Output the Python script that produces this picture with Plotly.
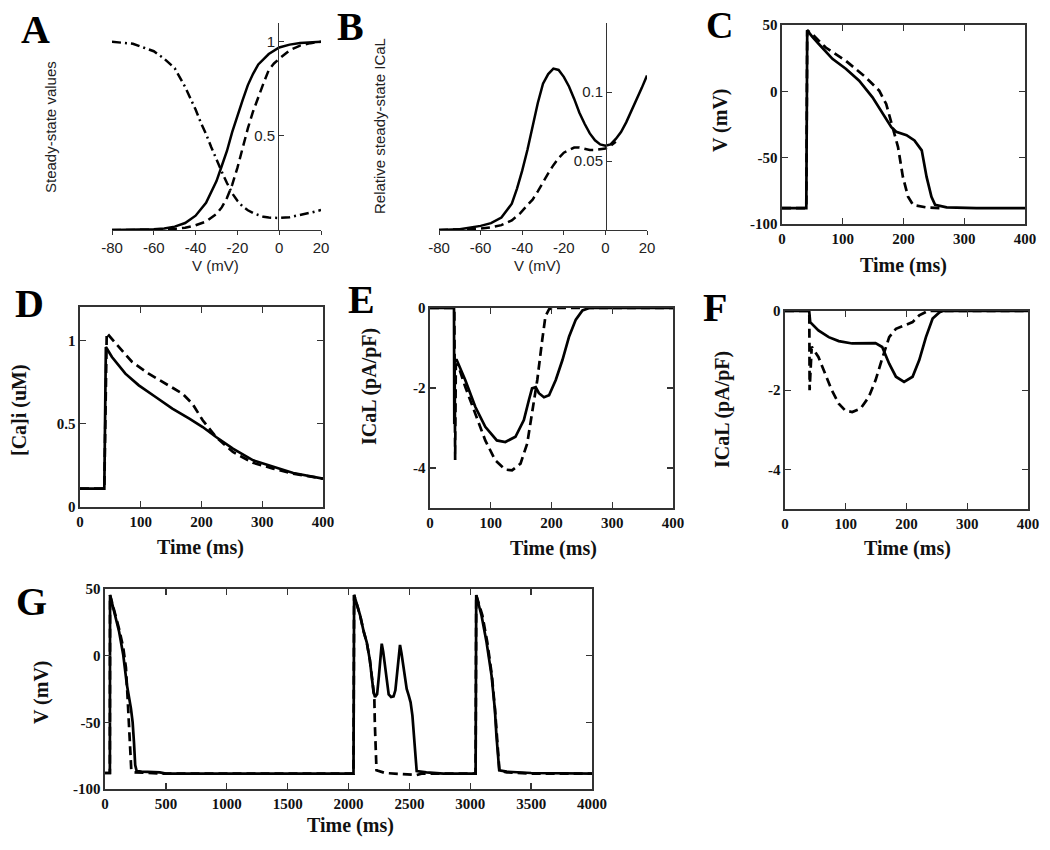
import plotly.graph_objects as go

# ---------------- Panel A: steady-state values ----------------
A_v_solid = [-80, -70, -60, -55, -50, -45, -40, -35, -30, -27.5, -25, -22.5, -20, -17.5, -15, -12.5, -10, -7.5, -5, 0, 5, 10, 15, 20]
A_y_solid = [0, 0.0, 0.004, 0.008, 0.018, 0.037, 0.076, 0.145, 0.26, 0.34, 0.42, 0.52, 0.61, 0.69, 0.77, 0.83, 0.88, 0.91, 0.935, 0.97, 0.985, 0.994, 0.997, 1.0]
A_v_dash = [-80, -60, -50, -45, -40, -35, -30, -27.5, -25, -22.5, -20, -17.5, -15, -12.5, -10, -7.5, -5, -2.5, 0, 5, 10, 15, 20]
A_y_dash = [0, 0.001, 0.006, 0.012, 0.025, 0.045, 0.085, 0.12, 0.17, 0.24, 0.33, 0.44, 0.54, 0.63, 0.71, 0.78, 0.85, 0.885, 0.91, 0.955, 0.98, 0.993, 1.0]
A_v_dd = [-80, -75, -70, -65, -60, -55, -50, -45, -42.5, -40, -37.5, -35, -32.5, -30, -27.5, -25, -22.5, -20, -17.5, -15, -12.5, -10, -7.5, -5, 0, 5, 10, 15, 20]
A_y_dd = [1.0, 0.995, 0.99, 0.97, 0.95, 0.91, 0.86, 0.76, 0.70, 0.64, 0.57, 0.51, 0.44, 0.37, 0.31, 0.25, 0.195, 0.155, 0.125, 0.105, 0.09, 0.08, 0.07, 0.066, 0.064, 0.068, 0.078, 0.092, 0.106]

# ---------------- Panel B: relative steady-state ICaL ----------------
B_v_solid = [-80, -70, -60, -55, -50, -45, -42.5, -40, -37.5, -35, -32.5, -30, -27.5, -25, -22.5, -20, -17.5, -15, -12.5, -10, -7.5, -5, -2.5, 0, 2.5, 5, 7.5, 10, 12.5, 15, 17.5, 20]
B_y_solid = [0, 0.0005, 0.003, 0.005, 0.009, 0.019, 0.03, 0.043, 0.058, 0.075, 0.092, 0.106, 0.113, 0.117, 0.116, 0.111, 0.104, 0.095, 0.085, 0.077, 0.07, 0.065, 0.062, 0.061, 0.062, 0.066, 0.071, 0.078, 0.086, 0.094, 0.103, 0.112]
B_v_dash = [-80, -60, -55, -50, -45, -41, -37.5, -35, -32.5, -30, -27.5, -25, -22.5, -20, -17.5, -15, -12.5, -10, -7.5, -5, -2.5, 0, 2.5, 5]
B_y_dash = [0, 0.001, 0.002, 0.0035, 0.007, 0.012, 0.018, 0.022, 0.028, 0.035, 0.041, 0.047, 0.052, 0.056, 0.058, 0.0597, 0.0598, 0.059, 0.058, 0.058, 0.0585, 0.059, 0.061, 0.064]

# ---------------- Panel C: action potential ----------------
C_t_solid = [0, 40, 41.5, 50, 61, 83, 105, 127, 149, 166, 180, 188, 205, 218, 230, 238, 246, 252, 271, 320, 400]
C_v_solid = [-88, -88, 46, 41, 35.5, 24.5, 17, 8, -4.5, -17, -27, -30.5, -33, -37, -44.5, -64.5, -79.5, -85.5, -87.5, -88, -88]
C_t_dash = [0, 40, 41.5, 50, 72, 105, 138, 160, 171.5, 182.6, 191, 199, 207.5, 216, 238, 260]
C_v_dash = [-88, -88, 46, 43, 33, 23, 10.5, 0.5, -9.5, -27, -42, -64.5, -79.5, -85.75, -87.5, -88]

# ---------------- Panel D: [Ca]i ----------------
D_t_solid = [0, 40, 42.6, 52.6, 74.7, 96.8, 124.5, 152, 180, 202, 224, 251.7, 285, 318, 351, 400]
D_c_solid = [0.11, 0.11, 0.96, 0.9, 0.8, 0.73, 0.66, 0.59, 0.53, 0.48, 0.42, 0.35, 0.28, 0.24, 0.204, 0.17]
D_t_dash = [0, 40, 44, 63.6, 85.8, 113, 141, 168.7, 185, 202, 224, 251.7, 285, 318, 351, 400]
D_c_dash = [0.11, 0.11, 1.044, 0.96, 0.87, 0.8, 0.74, 0.68, 0.62, 0.52, 0.42, 0.33, 0.265, 0.23, 0.2, 0.17]

# ---------------- Panel E: ICaL ----------------
E_t_solid = [0, 39.5, 40, 40.5, 44, 58, 74.5, 91, 110, 124, 140.7, 154.5, 162.8, 168, 174, 179.3, 187.6, 196, 207, 218, 229, 240, 251, 262, 400]
E_i_solid = [0, 0, -2.9, -1.3, -1.3, -1.8, -2.47, -2.97, -3.31, -3.35, -3.22, -2.8, -2.3, -2.01, -1.98, -2.13, -2.23, -2.18, -1.8, -1.3, -0.71, -0.29, -0.06, 0, 0]
E_t_dash = [0, 40, 41.4, 42.5, 47, 58, 74.5, 91, 107.6, 124, 135, 149, 160, 168, 176.6, 184.8, 190, 196, 201, 400]
E_i_dash = [0, 0, -3.8, -1.4, -1.46, -1.97, -2.64, -3.31, -3.81, -4.04, -4.06, -3.89, -3.39, -2.64, -1.80, -0.79, -0.21, -0.03, 0, 0]

# ---------------- Panel F: ICaL ----------------
F_t_solid = [0, 39.8, 41.5, 55, 72, 88.5, 110.6, 132.8, 149, 160, 171.5, 182.6, 196, 210, 221, 232, 243, 254.5, 260, 400]
F_i_solid = [0, 0, -0.28, -0.49, -0.66, -0.76, -0.82, -0.82, -0.81, -0.91, -1.33, -1.66, -1.79, -1.66, -1.24, -0.66, -0.19, -0.03, 0, 0]
F_t_dash = [0, 40, 40.5, 44, 55, 66, 77, 88.5, 99.6, 110.6, 124.5, 138, 149, 160, 171.5, 182.6, 199, 210, 221, 232, 235, 400]
F_i_dash = [0, 0, -2.0, -0.9, -1.16, -1.58, -2.0, -2.34, -2.52, -2.55, -2.46, -2.17, -1.75, -1.20, -0.66, -0.45, -0.36, -0.28, -0.11, -0.01, 0, 0]

# ---------------- Panel G: pacing trace ----------------
G_t_solid = [0, 40, 41.5, 75, 116, 150, 180, 213, 227, 238, 248, 260, 300, 450, 500,
             2041, 2046, 2070, 2096, 2125, 2150, 2175, 2191, 2205, 2218, 2235, 2250, 2262, 2273, 2285, 2300, 2315, 2330, 2350, 2370,
             2385, 2400, 2412, 2423, 2435, 2450, 2465, 2478, 2495, 2510, 2525, 2540, 2552, 2560, 2640, 2780,
             3044, 3049, 3093, 3134, 3175, 3202, 3215, 3228, 3238, 3300, 3500, 4000]
G_v_solid = [-88, -88, 45.5, 33, 18, 0.5, -22, -39.5, -50, -65, -82, -86.5, -87, -87.5, -88.5,
             -88.5, 45.5, 38, 30, 18, 10, -3, -15, -27, -31, -29, -15, 0, 9, 3, -8, -22, -29, -31, -30.5,
             -26, -14, 0, 8, 2, -8, -18, -25, -30, -35, -45, -62, -80, -86.5, -87.5, -88.5,
             -88.5, 45.5, 30, 10, -15, -40, -60, -80, -86, -87, -88, -88.5]
G_t_dash = [0, 40, 41.5, 75, 116, 150, 172, 183, 191, 199, 207, 216, 240, 500,
            2041, 2046, 2070, 2096, 2125, 2150, 2175, 2191, 2205, 2212, 2216, 2222, 2230, 2300, 2560, 2600,
            3044, 3049, 3100, 3140, 3178, 3203, 3221, 3232, 3240, 3300, 3500, 4000]
G_v_dash = [-88, -88, 45.5, 34, 20, 6, -9, -27, -42, -64, -79, -86, -87.5, -88.5,
            -88.5, 45.5, 38, 30, 18, 10, -3, -15, -27, -31, -50, -75, -86, -88, -89.5, -88.5,
            -88.5, 45.5, 30, 10, -15, -40, -65, -82, -86.5, -87.5, -88.5, -88.5]

W, H = 1050, 850
SANS = "Liberation Sans"
SERIF = "Liberation Serif"
DASH = "9px,5px"
DASHDOT = "9px,4px,2px,4px"


def px_x(p):
    return p / W


def px_y(p):
    return 1 - p / H


fig = go.Figure()


def add(x, y, ax, dash="solid", width=2.7):
    fig.add_trace(go.Scatter(x=x, y=y, mode="lines", xaxis="x" + ax, yaxis="y" + ax,
                             line=dict(color="black", width=width, dash=dash),
                             showlegend=False, hoverinfo="skip"))


add(A_v_dd, A_y_dd, "", DASHDOT, 2.5)
add(A_v_dash, A_y_dash, "", DASH, 2.5)
add(A_v_solid, A_y_solid, "", "solid", 2.5)
add(B_v_dash, B_y_dash, "2", DASH, 2.5)
add(B_v_solid, B_y_solid, "2", "solid", 2.5)
add(C_t_dash, C_v_dash, "3", DASH)
add(C_t_solid, C_v_solid, "3")
add(D_t_dash, D_c_dash, "4", DASH)
add(D_t_solid, D_c_solid, "4")
add(E_t_dash, E_i_dash, "5", DASH)
add(E_t_solid, E_i_solid, "5")
add(F_t_dash, F_i_dash, "6", DASH)
add(F_t_solid, F_i_solid, "6")
add(G_t_dash, G_v_dash, "7", DASH)
add(G_t_solid, G_v_solid, "7")


def lab(v):
    return "%g" % v


sans_font = dict(family=SANS, size=15, color="#222")
serif_tick = dict(family=SERIF, size=15, color="#111", weight="bold")


def cross_axes(n, xdom, ydom, yrange, yticks, ypos):
    sx = "" if n == 1 else str(n)
    xv = [-80, -60, -40, -20, 0, 20]
    xa = dict(domain=[px_x(xdom[0]), px_x(xdom[1])], range=[-80, 20], anchor="y" + sx,
              tickvals=xv, ticktext=[lab(v) for v in xv], ticks="outside", ticklen=4,
              tickcolor="#333", showline=True, linecolor="#333", linewidth=1.3,
              showgrid=False, zeroline=False, tickfont=sans_font, automargin=False)
    ya = dict(domain=[px_y(ydom[1]), px_y(ydom[0])], range=yrange, anchor="free",
              position=px_x(ypos), tickvals=yticks, ticktext=[lab(v) for v in yticks],
              ticks="inside", ticklen=5, tickcolor="#333", showline=True, linecolor="#333",
              linewidth=1.3, showgrid=False, zeroline=False, tickfont=sans_font, automargin=False)
    return xa, ya


def box_axes(n, xdom, ydom, xrange, xticks, yrange, yticks):
    sx = str(n)
    xa = dict(domain=[px_x(xdom[0]), px_x(xdom[1])], range=xrange, anchor="y" + sx,
              tickvals=xticks, ticktext=[lab(v) for v in xticks], ticks="inside", ticklen=6,
              tickwidth=1.3, tickcolor="#333", showline=True, mirror="ticks", linecolor="#333",
              linewidth=1.6, showgrid=False, zeroline=False, tickfont=serif_tick, automargin=False)
    ya = dict(domain=[px_y(ydom[1]), px_y(ydom[0])], range=yrange, anchor="x" + sx,
              tickvals=yticks, ticktext=[lab(v) for v in yticks], ticks="inside", ticklen=6,
              tickwidth=1.3, tickcolor="#333", showline=True, mirror="ticks", linecolor="#333",
              linewidth=1.6, showgrid=False, zeroline=False, tickfont=serif_tick, automargin=False)
    return xa, ya


layout = dict(width=W, height=H, margin=dict(l=0, r=0, t=0, b=0, autoexpand=False),
              paper_bgcolor="white", plot_bgcolor="white", showlegend=False)

xa, ya = cross_axes(1, (112, 321), (23, 230), [0, 1.1], [0.5, 1], 278)
layout["xaxis"], layout["yaxis"] = xa, ya
xa, ya = cross_axes(2, (439, 647), (23, 230), [0, 0.15], [0.05, 0.1], 606)
layout["xaxis2"], layout["yaxis2"] = xa, ya

t400 = [0, 100, 200, 300, 400]
xa, ya = box_axes(3, (782, 1025), (25, 224), [0, 400], t400, [-100, 50], [-100, -50, 0, 50])
layout["xaxis3"], layout["yaxis3"] = xa, ya
xa, ya = box_axes(4, (80, 323), (307, 507), [0, 400], t400, [0, 1.2], [0, 0.5, 1])
layout["xaxis4"], layout["yaxis4"] = xa, ya
xa, ya = box_axes(5, (430, 673), (308, 508), [0, 400], t400, [-5, 0], [-4, -2, 0])
layout["xaxis5"], layout["yaxis5"] = xa, ya
xa, ya = box_axes(6, (785, 1028), (311, 509), [0, 400], t400, [-5, 0], [-4, -2, 0])
layout["xaxis6"], layout["yaxis6"] = xa, ya
xa, ya = box_axes(7, (105, 592), (589, 789), [0, 4000], list(range(0, 4001, 500)), [-100, 50], [-100, -50, 0, 50])
layout["xaxis7"], layout["yaxis7"] = xa, ya

fig.update_layout(**layout)

ann = []


def text(s, x, y, font, angle=0):
    ann.append(dict(text=s, x=px_x(x), y=px_y(y), xref="paper", yref="paper",
                    xanchor="center", yanchor="middle", showarrow=False,
                    textangle=angle, font=font))


letter_font = dict(family=SERIF, size=40, color="black", weight="bold")
for s, x, y in [("A", 35, 30), ("B", 350, 27), ("D", 29, 303),
                ("E", 361, 299), ("F", 715, 307), ("G", 31, 601)]:
    text(s, x, y, letter_font)
text("C", 719, 25, dict(family=SERIF, size=38, color="black", weight="bold"))

sans_title = dict(family=SANS, size=15, color="#222")
text("Steady-state values", 50, 127, sans_title, -90)
text("V (mV)", 215, 265, sans_title)
text("Relative steady-state ICaL", 380, 126, sans_title, -90)
text("V (mV)", 537, 265, sans_title)

serif_title = dict(family=SERIF, size=20, color="#111", weight="bold")
text("V (mV)", 721, 120, serif_title, -90)
text("Time (ms)", 903, 265, serif_title)
text("[Ca]i (uM)", 19, 410, serif_title, -90)
text("Time (ms)", 200, 547, serif_title)
text("ICaL (pA/pF)", 369, 387, serif_title, -90)
text("Time (ms)", 553, 548, serif_title)
text("ICaL (pA/pF)", 722, 410, serif_title, -90)
text("Time (ms)", 907, 548, serif_title)
text("V (mV)", 41, 692, serif_title, -90)
text("Time (ms)", 350, 825, serif_title)

fig.update_layout(annotations=ann)
# remove the browser's default 8px body margin so the figure sits at the page origin
fig.write_html("out.html", config={"staticPlot": True, "displayModeBar": False},
               post_script="document.body.style.margin='0px';")
